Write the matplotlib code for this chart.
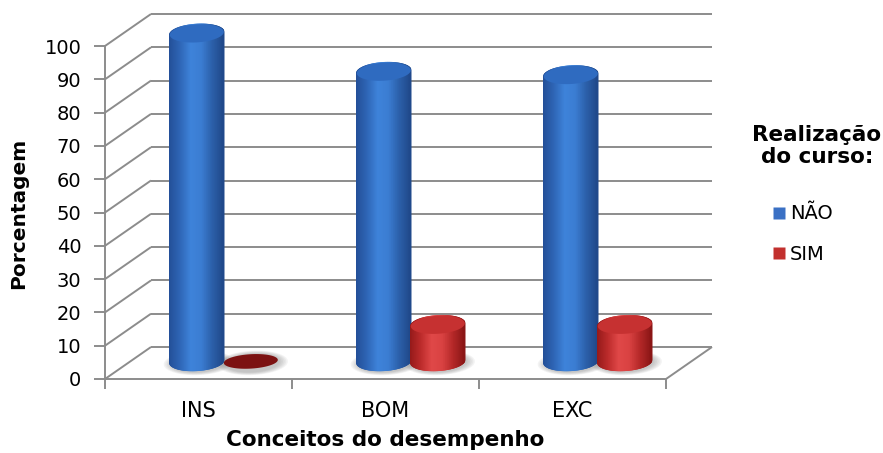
import numpy as np
import matplotlib
matplotlib.use("Agg")
import matplotlib.pyplot as plt
from matplotlib.patches import Polygon
from matplotlib.collections import PolyCollection
from matplotlib.lines import Line2D
from matplotlib.colors import LinearSegmentedColormap

# data
categories = ["INS", "BOM", "EXC"]
nao = [98.5, 87, 86]
sim = [0, 11, 11]
series_names = ["NÃO", "SIM"]
yticks = list(range(0, 101, 10))

W, H = 883, 453
fig = plt.figure(figsize=(W / 100, H / 100), dpi=100)

# front plane of the 3d box (pixels)
x0_px, x1_px = 105, 666
y0_px, y1_px = 379, 46
ax = fig.add_axes([x0_px / W, 1 - y0_px / H, (x1_px - x0_px) / W, (y0_px - y1_px) / H])
n = len(categories)

px_x = (x1_px - x0_px) / n      # pixels per category
px_y = (y0_px - y1_px) / 100.0  # pixels per percent
DX = 46 / px_x                  # depth of the box
DY = 32 / px_y

gray = "#8c8c8c"

# back wall + side wall lines
grid_kw = dict(color=gray, lw=1.4, clip_on=False, zorder=1, solid_capstyle="butt")
for v in yticks:
    ax.plot([DX, n + DX], [v + DY, v + DY], **grid_kw)
    ax.plot([0, DX], [v, v + DY], **grid_kw)
ax.plot([n, n + DX], [0, DY], **grid_kw)

blue_cmap = LinearSegmentedColormap.from_list(
    "b", ["#234f98", "#2f66b6", "#3e83da", "#3b7dd2", "#2c60aa", "#20498a"])
red_cmap = LinearSegmentedColormap.from_list(
    "r", ["#951a1a", "#bd2c2c", "#e04848", "#d94242", "#b42828", "#8a1616"])


def ellipse_pts(cx, cy, a, b, k, t):
    return np.column_stack([cx + a * np.cos(t), cy + b * np.sin(t) + k * np.cos(t)])


def cylinder(xc, val, cmap, top_color, depth=0.55):
    a = 27 / px_x
    b = 9 / px_y
    k = 1.5 / px_y
    cx = xc + depth * DX
    y0 = depth * DY
    y1 = y0 + val

    # soft shadow on the floor
    for i in range(6):
        s = 1.3 - i * 0.06
        sh = ellipse_pts(cx + 2 / px_x, y0 - 1.5 / px_y, a * s, b * (s + 0.05), k,
                         np.linspace(0, 2 * np.pi, 80))
        ax.add_patch(Polygon(sh, closed=True, fc="#707070", ec="none", alpha=0.08,
                             clip_on=False, zorder=2))

    if val >= 1:
        # body as thin vertical strips, shaded across the width
        m = 80
        edges = np.linspace(-1, 1, m + 1)
        polys, cols = [], []
        for j in range(m):
            u = np.linspace(edges[j], edges[j + 1], 3)
            r = np.sqrt(np.clip(1 - u ** 2, 0, None))
            xs = cx + a * u
            low = y0 - b * r + k * u
            up = y1 + b * r + k * u
            polys.append(np.column_stack([np.r_[xs, xs[::-1]], np.r_[low, up[::-1]]]))
            cols.append(cmap((j + 0.5) / m))
        ax.add_collection(PolyCollection(polys, facecolors=cols, edgecolors=cols,
                                         linewidths=1.0, clip_on=False, zorder=3))

    top = ellipse_pts(cx, y1, a, b if val >= 1 else b * 0.8, k, np.linspace(0, 2 * np.pi, 120))
    ax.add_patch(Polygon(top, closed=True, fc=top_color, ec="none",
                         clip_on=False, zorder=4))


half = 27 / px_x
for i in range(n):
    c = i + 0.5
    cylinder(c - half, nao[i], blue_cmap, "#2f6bc0")
    cylinder(c + half, sim[i], red_cmap, "#c63131" if sim[i] >= 1 else "#7c1212")

ax.set_xlim(0, n)
ax.set_ylim(0, 100)
ax.set_facecolor("none")

for side in ["top", "right"]:
    ax.spines[side].set_visible(False)
for side in ["left", "bottom"]:
    ax.spines[side].set_color(gray)
    ax.spines[side].set_linewidth(1.4)
    ax.spines[side].set_zorder(1)

ax.set_yticks(yticks)
ax.tick_params(axis="y", length=8, width=1.4, color=gray, pad=9, labelsize=14)
ax.set_xticks(range(n + 1))
ax.set_xticklabels([])
ax.set_xticks([i + 0.5 for i in range(n)], minor=True)
ax.set_xticklabels(categories, minor=True)
ax.tick_params(axis="x", which="major", length=7, width=1.4, color=gray)
ax.tick_params(axis="x", which="minor", length=0, pad=16, labelsize=15)

fig.text(385 / W, 1 - 440 / H, "Conceitos do desempenho", ha="center", va="center",
         fontsize=15.5, fontweight="bold")
fig.text(19 / W, 1 - 213 / H, "Porcentagem", ha="center", va="center",
         rotation=90, fontsize=14.5, fontweight="bold")

# legend
fig.text(817 / W, 1 - 146 / H, "Realização\ndo curso:", ha="center", va="center",
         fontsize=15.5, fontweight="bold", linespacing=1.15)
handles = [Line2D([], [], ls="", marker="s", markersize=8, color=col, mec="none")
           for col in ["#3a70c4", "#c2302e"]]
fig.legend(handles, series_names, loc="center left",
           bbox_to_anchor=(762 / W, 1 - 234 / H), frameon=False, fontsize=14,
           handlelength=0.7, handletextpad=0.25, labelspacing=1.1, borderpad=0)

fig.savefig("out.png", dpi=100)
